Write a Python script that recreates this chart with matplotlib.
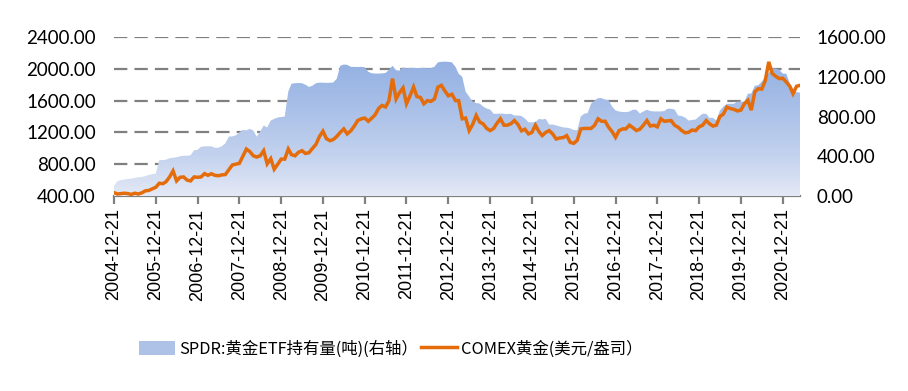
import numpy as np
import pandas as pd
import matplotlib
matplotlib.use("Agg")
import matplotlib.pyplot as plt
import matplotlib.dates as mdates
from matplotlib.colors import LinearSegmentedColormap
from matplotlib.patches import Patch
from matplotlib.lines import Line2D

# ---------------- data (monthly, 2004-12 .. 2021-05) ----------------
dates = pd.DatetimeIndex([pd.Timestamp(year=2004 + (11 + i) // 12, month=(11 + i) % 12 + 1, day=21)
                          for i in range(198)])

spdr_tonnes = [
    100,
    150, 160, 165, 172, 175, 182, 188, 192, 200, 212, 220, 225,          # 2005
    360, 362, 365, 380, 385, 390, 400, 405, 405, 410, 460, 465,          # 2006
    495, 500, 500, 500, 485, 485, 500, 530, 597, 600, 610, 640,          # 2007
    665, 660, 675, 660, 597, 650, 709, 690, 760, 776, 790, 795,          # 2008
    800, 1050, 1130, 1135, 1137, 1135, 1120, 1097, 1110, 1135, 1141, 1140,  # 2009
    1138, 1140, 1142, 1180, 1310, 1323, 1320, 1300, 1299, 1298, 1300, 1295,  # 2010
    1250, 1235, 1232, 1232, 1234, 1238, 1270, 1310, 1266, 1262, 1295, 1285,  # 2011
    1289, 1290, 1288, 1289, 1290, 1285, 1288, 1300, 1345, 1350, 1352, 1350,  # 2012
    1345, 1300, 1230, 1200, 1050, 1000, 950, 935, 930, 900, 880, 870,      # 2013
    827, 827, 830, 827, 825, 827, 810, 810, 805, 780, 742, 740,            # 2014
    745, 776, 770, 776, 719, 719, 710, 700, 690, 688, 680, 665,            # 2015
    660, 800, 827, 835, 928, 960, 985, 985, 970, 965, 900, 861,            # 2016
    850, 845, 844, 850, 868, 868, 830, 850, 868, 855, 851, 851,            # 2017
    851, 855, 878, 878, 870, 810, 805, 790, 759, 765, 770, 800,            # 2018
    827, 827, 787, 787, 760, 860, 900, 928, 928, 928, 950, 950,            # 2019
    950, 1030, 1030, 1110, 1114, 1150, 1198, 1240, 1283, 1283, 1270, 1232,  # 2020
    1230, 1131, 1080, 1046, 1040,                                          # 2021
]

comex_gold = [
    442,
    425, 430, 435, 430, 420, 435, 425, 440, 465, 470, 490, 510,            # 2005
    560, 555, 580, 640, 716, 590, 635, 640, 600, 590, 640, 635,            # 2006
    640, 682, 660, 680, 660, 655, 665, 670, 730, 790, 801, 810,            # 2007
    900, 990, 960, 906, 890, 906, 970, 805, 870, 737, 800, 864,            # 2008
    864, 991, 920, 906, 950, 970, 935, 945, 1000, 1050, 1150, 1215,        # 2009
    1120, 1096, 1110, 1150, 1200, 1244, 1181, 1220, 1280, 1350, 1371, 1380,  # 2010
    1340, 1380, 1420, 1500, 1539, 1520, 1600, 1877, 1620, 1700, 1760, 1561,  # 2011
    1660, 1771, 1650, 1640, 1560, 1600, 1590, 1620, 1770, 1792, 1720, 1660,  # 2012
    1680, 1600, 1600, 1371, 1380, 1223, 1300, 1413, 1330, 1307, 1250, 1223,  # 2013
    1250, 1320, 1371, 1290, 1291, 1310, 1349, 1300, 1220, 1240, 1181, 1200,  # 2014
    1291, 1210, 1160, 1200, 1223, 1180, 1117, 1130, 1135, 1160, 1075, 1062,  # 2015
    1100, 1244, 1250, 1250, 1250, 1290, 1371, 1340, 1340, 1265, 1210, 1138,  # 2016
    1223, 1244, 1244, 1291, 1260, 1223, 1240, 1290, 1349, 1280, 1290, 1270,  # 2017
    1371, 1340, 1345, 1349, 1290, 1265, 1225, 1195, 1202, 1230, 1222, 1270,  # 2018
    1290, 1349, 1310, 1280, 1291, 1400, 1430, 1518, 1500, 1490, 1470, 1480,  # 2019
    1560, 1603, 1480, 1710, 1750, 1745, 1850, 2087, 1940, 1905, 1877, 1880,  # 2020
    1834, 1780, 1687, 1780, 1792,                                          # 2021
]

tick_dates = [pd.Timestamp(f"{y}-12-21") for y in range(2004, 2021)]
left_ticks = [400, 800, 1200, 1600, 2000, 2400]
right_ticks = [0, 400, 800, 1200, 1600]
legend_labels = ["SPDR:黄金ETF持有量(吨)(右轴）", "COMEX黄金(美元/盎司）"]

# ---------------- figure ----------------
plt.rcParams['font.family'] = ['Noto Sans CJK SC', 'DejaVu Sans']
W, H = 908, 391
fig = plt.figure(figsize=(W / 100, H / 100), dpi=100)
rect = [114 / W, 1 - 196 / H, (800 - 114) / W, (196 - 37) / H]

grid_color = "#808080"
orange = "#E46C0A"

ax1 = fig.add_axes(rect)          # left scale, grid + ticks
ax2 = ax1.twinx()                 # right scale, area
ax3 = fig.add_axes(rect, sharex=ax1, sharey=ax1)  # line on top
ax3.patch.set_visible(False)
ax3.axis("off")

x0 = mdates.date2num(pd.Timestamp("2004-12-21"))
x1 = mdates.date2num(dates[-1])
ax1.set_xlim(x0, x1)
ax1.set_ylim(400, 2400)
ax2.set_ylim(0, 1600)

# grid lines
for v in left_ticks[1:]:
    ax1.axhline(v, color=grid_color, lw=1.6, ls=(0, (6, 3.2)), zorder=1)

# area with vertical gradient
xs = mdates.date2num(dates)
poly = ax2.fill_between(xs, 0, spdr_tonnes, color="none", lw=0)
cmap = LinearSegmentedColormap.from_list(
    "g", [(0.0, "#E4E9F6"), (0.3, "#C3D2EE"), (0.65, "#A9C0E8"), (1.0, "#94B1E2")])
grad = np.linspace(0, 1, 256).reshape(-1, 1)
top = max(spdr_tonnes)
im = ax2.imshow(grad, cmap=cmap, origin="lower", aspect="auto",
                extent=[x0, x1, 0, top], zorder=2, interpolation="bilinear")
path = poly.get_paths()[0]
im.set_clip_path(path, transform=ax2.transData)
ax2.set_xlim(x0, x1)
ax2.set_ylim(0, 1600)

# gold line
ax3.plot(xs, comex_gold, color=orange, lw=2.5, solid_joinstyle="miter")
ax3.set_xlim(x0, x1)
ax3.set_ylim(400, 2400)

# axes styling
for ax in (ax1, ax2):
    for s in ax.spines.values():
        s.set_visible(False)
ax1.spines["bottom"].set_visible(True)
ax1.spines["bottom"].set_color(grid_color)
ax1.spines["bottom"].set_linewidth(1.6)

ax1.set_xticks([mdates.date2num(d) for d in tick_dates])
ax1.xaxis.set_major_formatter(mdates.DateFormatter("%Y-%m-%d"))
ax1.tick_params(axis="x", length=6, width=1.6, color=grid_color, pad=3,
                labelrotation=90, labelsize=13)
for lab in ax1.get_xticklabels():
    lab.set_family("Liberation Sans")

ax1.set_yticks(left_ticks)
ax1.set_yticklabels([f"{v:.2f}" for v in left_ticks], family="Lato", fontsize=13.5)
ax1.tick_params(axis="y", length=0, pad=13)

ax2.set_yticks(right_ticks)
ax2.set_yticklabels([f"{v:.2f}" for v in right_ticks], family="Lato", fontsize=13.5)
ax2.tick_params(axis="y", length=0, pad=12)

# legend
handles = [Patch(facecolor="#AEC2E8", edgecolor="none"),
           Line2D([0], [0], color=orange, lw=2.5)]
leg = fig.legend(handles, legend_labels, loc="center left",
                 bbox_to_anchor=(124 / W, 1 - 349 / H), ncol=2, frameon=False,
                 fontsize=11.8, handlelength=2.2, handleheight=1.0,
                 handletextpad=0.25, columnspacing=0.2)

fig.savefig("out.png", dpi=100)
